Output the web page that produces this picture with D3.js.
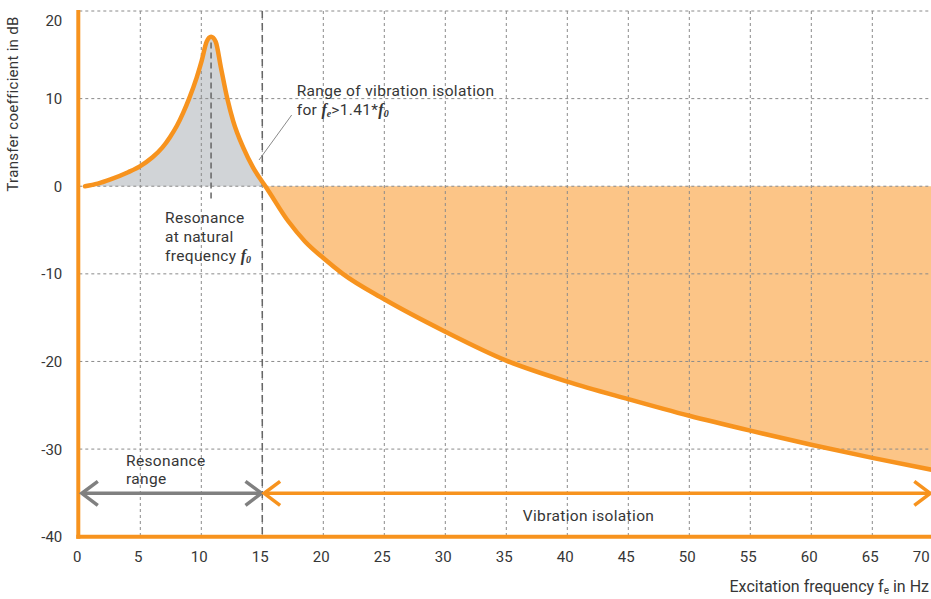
<!DOCTYPE html>
<html>
<head>
<meta charset="utf-8">
<script src="https://cdn.jsdelivr.net/npm/d3@7/dist/d3.min.js"></script>
<style>
  html, body { margin: 0; padding: 0; background: #fff; overflow: hidden; }
  svg { display: block; }
  text { font-family: Roboto, "Open Sans", sans-serif; fill: #363636; }
</style>
</head>
<body>
<script>
// ---- data ----
const freqHz = [0.47, 1.5, 2.5, 4, 5, 6, 6.8, 7.43, 8.0, 8.52, 9.0, 9.62, 10.03, 10.44, 10.8, 11.18, 11.6, 12.13, 12.62, 13.44, 14.26, 14.95, 15.25,
                17.13, 18.5, 20, 21.6, 25, 30, 35, 40, 45, 50, 55, 60, 65, 70];
const transferDb = [0, 0.3, 0.75, 1.6, 2.3, 3.3, 4.4, 5.6, 6.9, 8.4, 10.0, 12.4, 14.3, 16.5, 17.05, 16.5, 13.6, 10.0, 7.4, 4.4, 2.1, 0.6, 0,
                    -4.0, -6.3, -8.2, -10, -12.9, -16.6, -19.9, -22.3, -24.3, -26.2, -27.9, -29.5, -31.0, -32.4];
const xTicks = [0, 5, 10, 15, 20, 25, 30, 35, 40, 45, 50, 55, 60, 65, 70];
const yTicks = [20, 10, 0, -10, -20, -30, -40];
const naturalFreq = 10.8;
const isolationStart = 15;
const crossingFreq = 15.25;

const W = 931, H = 599;
const svg = d3.select("body").append("svg").attr("width", W).attr("height", H);

const x = d3.scaleLinear().domain([0, 70]).range([79.3, 933.3]);
const y = d3.scaleLinear().domain([-40, 20]).range([536.7, 11]);

const ORANGE = "#f7931e", ORANGE_FILL = "#fcc587", GRAY_FILL = "#d1d4d7", GRID = "#8a8a8a";
const serif = "'Liberation Serif', 'DejaVu Serif', serif";
const SANS = "Roboto, 'Open Sans', sans-serif";

const pts = freqHz.map((f, i) => ({ f, v: transferDb[i] }));
const resPts = pts.filter(d => d.f <= crossingFreq);
const isoPts = pts.filter(d => d.f >= crossingFreq);

const area = d3.area().x(d => x(d.f)).y0(y(0)).y1(d => y(d.v)).curve(d3.curveMonotoneX);
const line = d3.line().x(d => x(d.f)).y(d => y(d.v)).curve(d3.curveMonotoneX);

// fills
svg.append("path").attr("d", area(resPts)).attr("fill", GRAY_FILL);
svg.append("path").attr("d", area(isoPts)).attr("fill", ORANGE_FILL);

// grid
const grid = svg.append("g");
grid.selectAll(".vg").data(xTicks.filter(t => t > 0)).enter().append("line")
  .attr("x1", d => x(d)).attr("x2", d => x(d)).attr("y1", y(20)).attr("y2", y(-40))
  .attr("stroke", GRID).attr("stroke-width", 1).attr("stroke-dasharray", "3,3");
grid.selectAll(".hg").data(yTicks.filter(t => t > -40)).enter().append("line")
  .attr("x1", x(0)).attr("x2", W).attr("y1", d => y(d)).attr("y2", d => y(d))
  .attr("stroke", GRID).attr("stroke-width", 1).attr("stroke-dasharray", "3,3");

// special dashed lines
svg.append("line").attr("x1", x(isolationStart)).attr("x2", x(isolationStart))
  .attr("y1", y(20)).attr("y2", y(-40)).attr("stroke", "#666").attr("stroke-width", 1.5)
  .attr("stroke-dasharray", "7,5");
svg.append("line").attr("x1", x(naturalFreq)).attr("x2", x(naturalFreq))
  .attr("y1", y(16.4)).attr("y2", y(-1.7)).attr("stroke", "#666").attr("stroke-width", 1.5)
  .attr("stroke-dasharray", "6,4");

// curve
svg.append("path").attr("d", line(pts)).attr("fill", "none").attr("stroke", ORANGE)
  .attr("stroke-width", 4.5).attr("stroke-linejoin", "round").attr("stroke-linecap", "round");

// axes lines (thick orange)
svg.append("line").attr("x1", x(0) - 1).attr("x2", x(0) - 1).attr("y1", y(20) - 1).attr("y2", y(-40) + 2)
  .attr("stroke", ORANGE).attr("stroke-width", 4);
svg.append("line").attr("x1", x(0) - 3).attr("x2", W).attr("y1", y(-40)).attr("y2", y(-40))
  .attr("stroke", ORANGE).attr("stroke-width", 4);

// tick labels via axes
const yAxis = svg.append("g").attr("transform", `translate(${x(0) - 17},0)`)
  .call(d3.axisLeft(y).tickValues(yTicks).tickSize(0).tickPadding(0).tickFormat(d => String(d)));
yAxis.select(".domain").remove();
yAxis.selectAll("text").attr("font-size", 15).attr("fill", "#363636")
  .attr("font-family", SANS)
  .attr("dy", d => d === 20 ? "0.95em" : "0.34em");

const xAxis = svg.append("g").attr("transform", `translate(-2.5,${y(-40) + 15})`)
  .call(d3.axisBottom(x).tickValues(xTicks).tickSize(0).tickPadding(0).tickFormat(d => String(d)));
xAxis.select(".domain").remove();
xAxis.selectAll("text").attr("font-size", 15).attr("fill", "#363636")
  .attr("font-family", SANS)
  .attr("dx", d => d === 70 ? -10 : 0);

// axis titles
svg.append("text").attr("transform", `translate(18,104) rotate(-90)`).attr("text-anchor", "middle")
  .attr("font-size", 15).attr("letter-spacing", 0.3).text("Transfer coefficient in dB");
const xt = svg.append("text").attr("x", 929).attr("y", 592).attr("font-size", 16).attr("text-anchor", "end");
xt.append("tspan").text("Excitation frequency f");
xt.append("tspan").attr("font-size", 10).attr("dy", 2).text("e");
xt.append("tspan").attr("dy", -2).text(" in Hz");

// arrows
const ay = 493.3;
function chevron(tipX, dir, color) {
  svg.append("path")
    .attr("d", `M${tipX + dir * 16},${ay - 12} L${tipX},${ay} L${tipX + dir * 16},${ay + 12}`)
    .attr("fill", "none").attr("stroke", color).attr("stroke-width", 3.5).attr("stroke-linejoin", "miter");
}
const GRAY_ARROW = "#808080";
svg.append("line").attr("x1", x(0) + 3).attr("x2", x(isolationStart) - 1).attr("y1", ay).attr("y2", ay)
  .attr("stroke", GRAY_ARROW).attr("stroke-width", 3.5);
chevron(x(0) + 2.5, 1, GRAY_ARROW);
chevron(x(isolationStart) - 0.8, -1, GRAY_ARROW);
svg.append("line").attr("x1", x(isolationStart) + 2).attr("x2", x(70) - 3).attr("y1", ay).attr("y2", ay)
  .attr("stroke", ORANGE).attr("stroke-width", 3.5);
chevron(x(isolationStart) + 1.8, 1, ORANGE);
chevron(x(70) - 3, -1, ORANGE);

// annotations
const FS = 15.5, LS = 0.35;
function label(xp, yp, txt, anchor) {
  return svg.append("text").attr("x", xp).attr("y", yp).attr("font-size", FS)
    .attr("letter-spacing", LS).attr("text-anchor", anchor || "start").text(txt);
}
label(126, 465.5, "Resonance");
label(126, 484, "range");
label(588.5, 520.5, "Vibration isolation", "middle");

label(165, 223.3, "Resonance");
label(165, 242.3, "at natural");
const fq = label(165, 261, "frequency ");
fq.append("tspan").attr("font-family", serif).attr("font-style", "italic")
  .attr("font-weight", "bold").attr("font-size", 16).attr("letter-spacing", 0).text("f");
fq.append("tspan").attr("font-family", serif).attr("font-style", "italic")
  .attr("font-weight", "bold").attr("font-size", 10).attr("letter-spacing", 0).attr("dy", 2).text("0");

label(296.7, 96, "Range of vibration isolation");
const r2 = label(296.7, 115, "for ");
r2.append("tspan").attr("font-family", serif).attr("font-style", "italic").attr("font-weight", "bold").attr("font-size", 16).attr("letter-spacing", 0).text("f");
r2.append("tspan").attr("font-family", serif).attr("font-style", "italic").attr("font-weight", "bold").attr("font-size", 10).attr("letter-spacing", 0).attr("dy", 2).text("e");
r2.append("tspan").attr("dy", -2).text(">1.41*");
r2.append("tspan").attr("font-family", serif).attr("font-style", "italic").attr("font-weight", "bold").attr("font-size", 16).attr("letter-spacing", 0).text("f");
r2.append("tspan").attr("font-family", serif).attr("font-style", "italic").attr("font-weight", "bold").attr("font-size", 10).attr("letter-spacing", 0).attr("dy", 2).text("0");

// leader line
svg.append("line").attr("x1", 259).attr("y1", 160).attr("x2", 291.7).attr("y2", 115)
  .attr("stroke", "#8a8a8a").attr("stroke-width", 1);
</script>
</body>
</html>
